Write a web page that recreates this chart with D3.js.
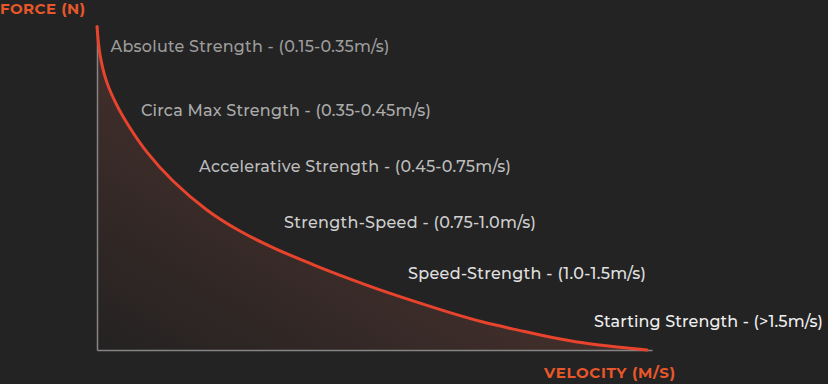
<!DOCTYPE html>
<html>
<head>
<meta charset="utf-8">
<script src="https://cdn.jsdelivr.net/npm/d3@7"></script>
<style>
  html, body { margin: 0; padding: 0; background: #232323; }
  svg { display: block; }
  text { font-family: Montserrat, "Open Sans", sans-serif; }
</style>
</head>
<body>
<div id="chart"></div>
<script>
// force-velocity curve
const velocity = [0.00, 0.011, 0.035, 0.071, 0.119, 0.180, 0.274, 0.396, 0.515, 0.634, 0.778, 0.901, 1.020, 1.139, 1.272, 1.391, 1.514, 1.632, 1.751, 1.874, 1.982];
const force    = [99.5, 90.8,  82.5,  75.4,  68.3,  60.9,  52.0,  43.1,  36.6,  31.5,  26.3,  22.2,  18.5,  15.1,  11.5,  8.6,   6.2,   4.0,   2.2,   0.9,   0];

const zones = [
  'Absolute Strength - (0.15-0.35m/s)',
  'Circa Max Strength - (0.35-0.45m/s)',
  'Accelerative Strength - (0.45-0.75m/s)',
  'Strength-Speed - (0.75-1.0m/s)',
  'Speed-Strength - (1.0-1.5m/s)',
  'Starting Strength - (>1.5m/s)'
];

const W = 828, H = 384;
const svg = d3.select('#chart').append('svg').attr('width', W).attr('height', H);

const x = d3.scaleLinear().domain([0, 2]).range([97, 652]);
const y = d3.scaleLinear().domain([0, 100]).range([350, 25]);

const pts = velocity.map((v, i) => ({ v, f: force[i] }));

// diagonal gradient: dark bottom-left -> warm toward the curve
const defs = svg.append('defs');
const grad = defs.append('linearGradient').attr('id', 'fill')
  .attr('x1', 0).attr('y1', 1).attr('x2', 1).attr('y2', 0);
grad.append('stop').attr('offset', '0%').attr('stop-color', '#242222');
grad.append('stop').attr('offset', '45%').attr('stop-color', '#412e2a');
grad.append('stop').attr('offset', '100%').attr('stop-color', '#5a3830');

const curve = d3.curveCatmullRom.alpha(0.5);
const area = d3.area().x(d => x(d.v)).y0(y(0)).y1(d => y(d.f)).curve(curve);
const line = d3.line().x(d => x(d.v)).y(d => y(d.f)).curve(curve);

svg.append('path').datum(pts).attr('d', area).attr('fill', 'url(#fill)');

// axes: plain lines, no ticks
const gx = svg.append('g').attr('transform', `translate(0,${y(0)})`)
  .call(d3.axisBottom(x).ticks(0).tickSize(0).tickSizeOuter(0));
const gy = svg.append('g').attr('transform', `translate(${x(0)},0)`)
  .call(d3.axisLeft(y).ticks(0).tickSize(0).tickSizeOuter(0));
[gx, gy].forEach(g => g.select('.domain').attr('stroke', '#858585').attr('stroke-width', 1.5));

svg.append('path').datum(pts).attr('d', line)
  .attr('fill', 'none').attr('stroke', '#e8432d').attr('stroke-width', 3)
  .attr('stroke-linecap', 'round');

// zone labels
const labelPos = [[110.5, 52], [141, 115.5], [199, 172], [284, 227.5], [408, 279], [594, 326.5]];
const labelW = [279, 290, 0, 252, 238, 229];
const labelCol = ['#9c9c9c', '#ababab', '#bcbcbc', '#cfcfcf', '#e0e0e0', '#efefef'];

zones.forEach((t, i) => {
  const el = svg.append('text')
    .attr('x', labelPos[i][0]).attr('y', labelPos[i][1])
    .attr('fill', labelCol[i])
    .style('font-size', '16px')
    .style('font-weight', 500)
    .text(t);
  const w = labelW[i] || 279 * t.length / zones[0].length;
  el.attr('textLength', w).attr('lengthAdjust', 'spacing');
});

// axis titles
svg.append('text').attr('x', 0).attr('y', 14)
  .attr('fill', '#e8572b').style('font-size', '15px').style('font-weight', 700)
  .attr('textLength', 85).attr('lengthAdjust', 'spacing')
  .text('FORCE (N)');
svg.append('text').attr('x', 544).attr('y', 378)
  .attr('fill', '#e8572b').style('font-size', '15px').style('font-weight', 700)
  .attr('textLength', 131).attr('lengthAdjust', 'spacing')
  .text('VELOCITY (M/S)');
</script>
</body>
</html>
